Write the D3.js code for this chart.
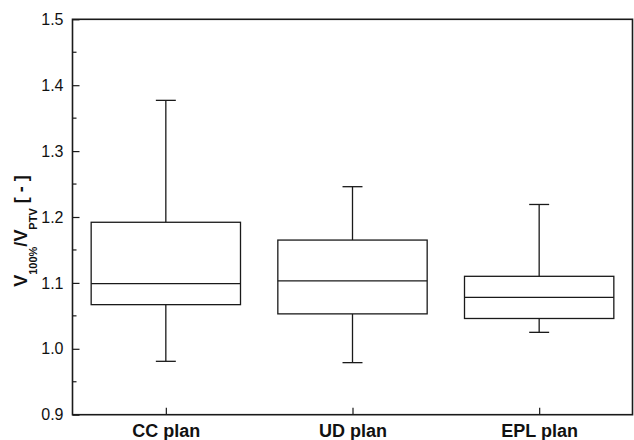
<!DOCTYPE html>
<html>
<head>
<meta charset="utf-8">
<script src="https://cdn.jsdelivr.net/npm/d3@7"></script>
<style>
  html, body { margin: 0; padding: 0; background: #fff; }
  svg { display: block; }
  text { font-family: "Liberation Sans", Arial, sans-serif; fill: #111; }
</style>
</head>
<body>
<svg id="chart" width="634" height="440"></svg>
<script>
// Box plot statistics per plan type
const categories  = ["CC plan", "UD plan", "EPL plan"];
const whiskerLow  = [0.981, 0.979, 1.025];
const quartile1   = [1.067, 1.053, 1.046];
const medians     = [1.099, 1.103, 1.078];
const quartile3   = [1.192, 1.165, 1.110];
const whiskerHigh = [1.377, 1.246, 1.219];
const yTicks      = [0.9, 1.0, 1.1, 1.2, 1.3, 1.4, 1.5];

const svg = d3.select("#chart");
const plot = { left: 72.5, right: 632.5, top: 19.3, bottom: 414.7 };
const ink = "#1a1a1a";

const x = d3.scalePoint().domain(categories).range([plot.left, plot.right]).padding(0.5);
const y = d3.scaleLinear().domain([0.9, 1.5]).range([plot.bottom, plot.top]);

const boxW = x.step() * 0.8;
const capW = x.step() * 0.107;

const rows = categories.map((c, i) => ({
  c, lo: whiskerLow[i], q1: quartile1[i], med: medians[i], q3: quartile3[i], hi: whiskerHigh[i]
}));

// Minor ticks on the left axis (inside)
const minor = d3.range(0, 13).map(i => 0.9 + i * 0.05).filter(v => Math.abs(Math.round(v * 10) - v * 10) > 1e-6);
svg.append("g").selectAll("line").data(minor).join("line")
  .attr("x1", plot.left).attr("x2", plot.left + 4)
  .attr("y1", d => y(d)).attr("y2", d => y(d))
  .attr("stroke", ink).attr("stroke-width", 1.2);

// Left axis with inward major ticks
const yAxis = d3.axisLeft(y).tickValues(yTicks).tickSize(-7).tickPadding(16)
  .tickFormat(d3.format(".1f"));
const gy = svg.append("g").attr("transform", `translate(${plot.left},0)`).call(yAxis);
gy.select(".domain").remove();
gy.selectAll(".tick line").attr("stroke", ink).attr("stroke-width", 1.2);
gy.selectAll(".tick text").attr("font-size", 16).attr("fill", "#111")
  .attr("font-family", "'Liberation Sans', Arial, sans-serif").attr("x", -9);

// Bottom axis with inward ticks at the categories
const xAxis = d3.axisBottom(x).tickSize(-7).tickPadding(14);
const gx = svg.append("g").attr("transform", `translate(0,${plot.bottom})`).call(xAxis);
gx.select(".domain").remove();
gx.selectAll(".tick line").attr("stroke", ink).attr("stroke-width", 1.2);
gx.selectAll(".tick text").attr("font-size", 18).attr("font-weight", "bold").attr("fill", "#111")
  .attr("font-family", "'Liberation Sans', Arial, sans-serif").attr("y", 10).attr("dy", "0.71em");

// Frame around the plot area
svg.append("rect")
  .attr("x", plot.left).attr("y", plot.top)
  .attr("width", plot.right - plot.left).attr("height", plot.bottom - plot.top)
  .attr("fill", "none").attr("stroke", ink).attr("stroke-width", 1.6);

// Boxes, whiskers and medians
const g = svg.append("g").attr("stroke", ink).attr("stroke-width", 1.3).attr("fill", "none");
const b = g.selectAll("g.box").data(rows).join("g").attr("class", "box");

b.append("line").attr("x1", d => x(d.c)).attr("x2", d => x(d.c))
  .attr("y1", d => y(d.q3)).attr("y2", d => y(d.hi));
b.append("line").attr("x1", d => x(d.c)).attr("x2", d => x(d.c))
  .attr("y1", d => y(d.q1)).attr("y2", d => y(d.lo));
b.append("line").attr("x1", d => x(d.c) - capW / 2).attr("x2", d => x(d.c) + capW / 2)
  .attr("y1", d => y(d.hi)).attr("y2", d => y(d.hi));
b.append("line").attr("x1", d => x(d.c) - capW / 2).attr("x2", d => x(d.c) + capW / 2)
  .attr("y1", d => y(d.lo)).attr("y2", d => y(d.lo));
b.append("rect")
  .attr("x", d => x(d.c) - boxW / 2).attr("width", boxW)
  .attr("y", d => y(d.q3)).attr("height", d => y(d.q1) - y(d.q3))
  .attr("fill", "#fff");
b.append("line").attr("x1", d => x(d.c) - boxW / 2).attr("x2", d => x(d.c) + boxW / 2)
  .attr("y1", d => y(d.med)).attr("y2", d => y(d.med));

// Y axis title with subscripts
const title = svg.append("text")
  .attr("transform", "translate(27,231) rotate(-90)")
  .attr("text-anchor", "middle")
  .attr("font-size", 18).attr("font-weight", "bold");
title.append("tspan").text("V");
title.append("tspan").attr("font-size", 11).attr("dy", 10).text("100%");
title.append("tspan").attr("dy", -10).text("/V");
title.append("tspan").attr("font-size", 11).attr("dy", 10).text("PTV");
title.append("tspan").attr("dy", -10).text(" [ - ]");
</script>
</body>
</html>
